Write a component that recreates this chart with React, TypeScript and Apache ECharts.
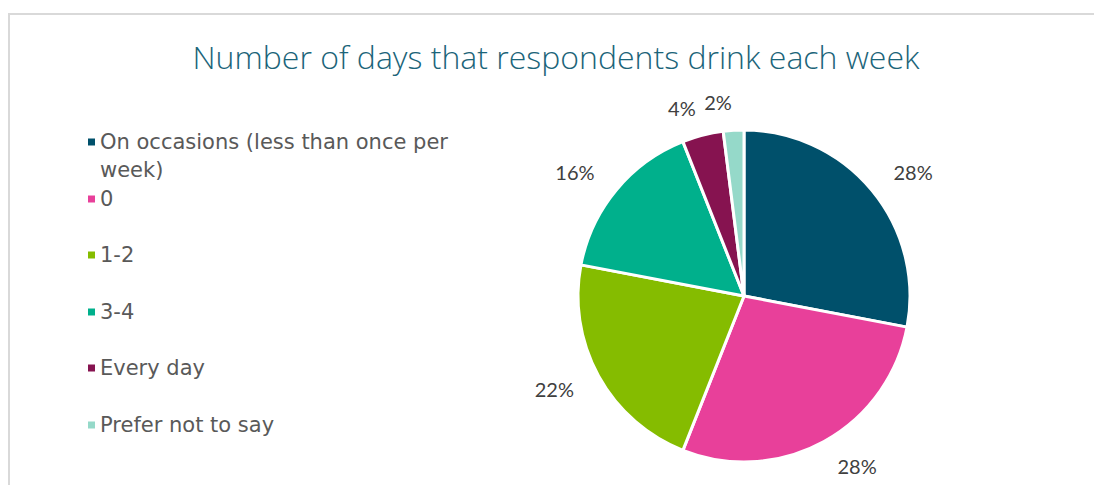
import React, { useEffect, useRef } from "react";
import * as echarts from "echarts";

const categories = [
  "On occasions (less than once per week)",
  "0",
  "1-2",
  "3-4",
  "Every day",
  "Prefer not to say",
];
const percentages = [28, 28, 22, 16, 4, 2];
const sliceColors = ["#00506B", "#E8409A", "#85BC00", "#00B08C", "#861350", "#95D9C9"];
const titleText = "Number of days that respondents drink each week";

const legendCenters = [142, 199, 255, 312, 368, 425];

export default function App() {
  const ref = useRef<HTMLDivElement>(null);
  useEffect(() => {
    document.body.style.margin = "0";
    const chart = echarts.init(ref.current!, undefined, { renderer: "svg" });
    const legends = categories.map((name, i) => {
      const first = i === 0;
      return {
        show: true,
        orient: "vertical",
        left: 88,
        top: first ? legendCenters[i] - 42 : legendCenters[i] - 14,
        padding: 0,
        itemWidth: 7,
        itemHeight: 7,
        icon: "rect",
        selectedMode: false,
        itemStyle: { borderWidth: 0 },
        data: [name],
        formatter: (n: string) =>
          n === categories[0] ? "\nOn occasions (less than once per\nweek)" : n,
        textStyle: {
          fontFamily: "DejaVu Sans",
          fontSize: 21,
          color: "#595959",
          lineHeight: 28,
        },
      };
    });
    chart.setOption({
      animation: false,
      color: sliceColors,
      title: {
        text: titleText,
        left: 556,
        top: 40,
        padding: 0,
        textAlign: "center",
        textStyle: {
          fontFamily: "Open Sans",
          fontWeight: 300,
          fontSize: 32,
          color: "#1B6479",
        },
      },
      graphic: [
        {
          type: "rect",
          shape: { x: 9, y: 14, width: 1200, height: 600 },
          style: { fill: "none", stroke: "#D9D9D9", lineWidth: 2 },
          silent: true,
        },
      ],
      legend: legends,
      series: [
        {
          type: "pie",
          center: [744, 296],
          radius: 166,
          startAngle: 90,
          clockwise: true,
          avoidLabelOverlap: false,
          data: categories.map((name, i) => ({ name, value: percentages[i] })),
          itemStyle: { borderColor: "#FFFFFF", borderWidth: 3 },
          label: {
            show: true,
            position: "outside",
            formatter: "{c}%",
            fontFamily: "Lato",
            fontSize: 20,
            color: "#404040",
            distanceToLabelLine: 0,
          },
          labelLine: { show: false, length: 28, length2: 0 },
          emphasis: { disabled: true },
        },
      ],
    });
    return () => chart.dispose();
  }, []);
  return <div ref={ref} style={{ width: 1094, height: 485 }} />;
}
